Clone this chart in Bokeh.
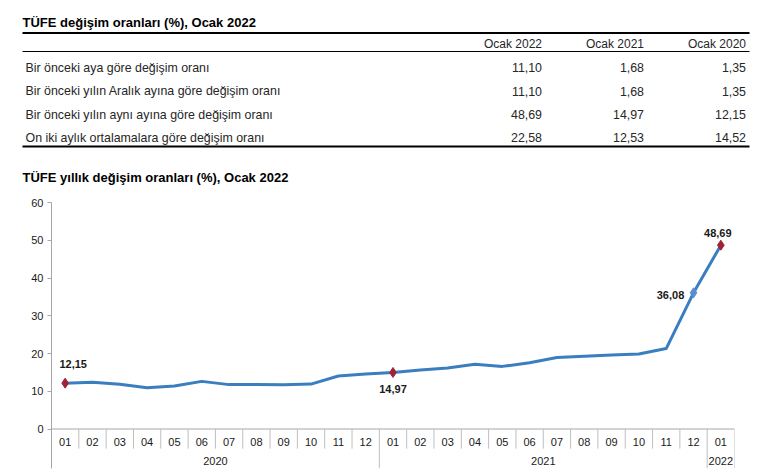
from bokeh.plotting import figure
from bokeh.models import Range1d, FixedTicker, ColumnDataSource
from bokeh.layouts import column
from bokeh.embed import file_html
from bokeh.resources import INLINE
from bokeh.core.properties import value

# ---------------- data ----------------
table_title = "TÜFE değişim oranları (%), Ocak 2022"
table_columns = ["Ocak 2022", "Ocak 2021", "Ocak 2020"]
row_labels = [
    "Bir önceki aya göre değişim oranı",
    "Bir önceki yılın Aralık ayına göre değişim oranı",
    "Bir önceki yılın aynı ayına göre değişim oranı",
    "On iki aylık ortalamalara göre değişim oranı",
]
col_ocak_2022 = [11.10, 11.10, 48.69, 22.58]
col_ocak_2021 = [1.68, 1.68, 14.97, 12.53]
col_ocak_2020 = [1.35, 1.35, 12.15, 14.52]

chart_title = "TÜFE yıllık değişim oranları (%), Ocak 2022"
months = ["01", "02", "03", "04", "05", "06", "07", "08", "09", "10", "11", "12",
          "01", "02", "03", "04", "05", "06", "07", "08", "09", "10", "11", "12",
          "01"]
years = ["2020"] * 12 + ["2021"] * 12 + ["2022"]
annual_change = [12.15, 12.37, 11.86, 10.94, 11.39, 12.62, 11.76, 11.77, 11.75, 11.89, 14.03, 14.60,
                 14.97, 15.61, 16.19, 17.14, 16.59, 17.53, 18.95, 19.25, 19.58, 19.89, 21.31, 36.08,
                 48.69]
y_ticks = [0, 10, 20, 30, 40, 50, 60]
labelled_red = [0, 12, 24]      # indices with dark red markers + labels
labelled_blue = [23]            # index with blue marker + label

# ---------------- styles ----------------
FONT = value("Liberation Sans")
LINE_COLOR = "#3A7EC0"
RED = "#9E2336"
BLUE = "#5A8ED0"
SEP_COLOR = "#BFBFBF"
AXIS_COLOR = "#A6A6A6"
TEXT_COLOR = "#1A1A1A"


def fmt(v):
    return f"{v:.2f}".replace(".", ",")


# ---------------- table figure ----------------
TW, TH = 762, 195
t = figure(width=TW, height=TH, x_range=Range1d(0, TW), y_range=Range1d(TH, 0),
           x_axis_location=None, y_axis_location=None, toolbar_location=None,
           output_backend="svg", min_border=0, frame_align=False)
t.grid.visible = False
t.outline_line_color = None

t.text(x=[22], y=[22], text=[table_title], text_font=FONT, text_font_style="bold",
       text_font_size="13px", text_baseline="middle", text_align="left", text_color="#000000")
t.text(x=[22], y=[177], text=[chart_title], text_font=FONT, text_font_style="bold",
       text_font_size="13px", text_baseline="middle", text_align="left", text_color="#000000")

left, right = 22, 749
t.segment(x0=[left], y0=[32.5], x1=[right], y1=[32.5], line_color="#000000", line_width=2)
t.segment(x0=[left], y0=[51], x1=[right], y1=[51], line_color="#000000", line_width=1)
t.segment(x0=[left], y0=[146], x1=[right], y1=[146], line_color="#000000", line_width=2)

col_right = [541.5, 643.5, 745.5]
header_y = 43
row_y = [67, 90.5, 114, 137]

t.text(x=col_right, y=[header_y] * 3, text=table_columns, text_font=FONT,
       text_font_size="12px", text_baseline="middle", text_align="right", text_color="#262626")
t.text(x=[25] * len(row_labels), y=row_y, text=row_labels, text_font=FONT,
       text_font_size="12.4px", text_baseline="middle", text_align="left", text_color="#262626")
for cx, col in zip(col_right, [col_ocak_2022, col_ocak_2021, col_ocak_2020]):
    t.text(x=[cx] * len(col), y=row_y, text=[fmt(v) for v in col], text_font=FONT,
           text_font_size="12.4px", text_baseline="middle", text_align="right",
           text_color="#262626")

# ---------------- chart figure ----------------
n = len(months)
y_bottom = -10.46
p = figure(width=762, height=278, x_range=Range1d(-0.5, n - 0.5),
           y_range=Range1d(y_bottom, 60), x_axis_location=None, y_axis_location="left",
           toolbar_location=None, output_backend="svg", frame_align=False,
           min_border_left=51, min_border_right=28, min_border_top=7, min_border_bottom=5)
p.grid.visible = False
p.outline_line_color = None

ax = p.yaxis[0]
ax.ticker = FixedTicker(ticks=y_ticks)
ax.major_tick_out = 4
ax.major_tick_in = 0
ax.minor_tick_out = 0
ax.minor_tick_in = 0
ax.axis_line_color = AXIS_COLOR
ax.major_tick_line_color = AXIS_COLOR
ax.major_label_text_font = "Liberation Sans"
ax.major_label_text_font_size = "11px"
ax.major_label_text_color = TEXT_COLOR
ax.major_label_standoff = 4

idx = list(range(n))

# category axis baseline and separators
p.segment(x0=[-0.5], y0=[0], x1=[n - 0.5], y1=[0], line_color=AXIS_COLOR, line_width=1)
sep_x, sep_bottom = [], []
for k in range(1, n + 1):
    sep_x.append(k - 0.5)
    year_break = (k == n) or (years[k] != years[k - 1])
    sep_bottom.append(y_bottom if year_break else -5.2)
p.segment(x0=sep_x, y0=[0] * len(sep_x), x1=sep_x, y1=sep_bottom,
          line_color=SEP_COLOR, line_width=1)

p.text(x=idx, y=[-3.5] * n, text=months, text_font=FONT, text_font_size="11px",
       text_align="center", text_baseline="middle", text_color=TEXT_COLOR)

year_names, year_centers = [], []
for yname in dict.fromkeys(years):
    members = [i for i in idx if years[i] == yname]
    year_names.append(yname)
    year_centers.append(sum(members) / len(members))
p.text(x=year_centers, y=[-8.6] * len(year_names), text=year_names, text_font=FONT,
       text_font_size="11px", text_align="center", text_baseline="middle", text_color=TEXT_COLOR)

# series
src = ColumnDataSource(dict(x=idx, y=annual_change))
p.line("x", "y", source=src, line_color=LINE_COLOR, line_width=3, line_join="round")

p.scatter(x=[idx[i] for i in labelled_red], y=[annual_change[i] for i in labelled_red],
          marker="diamond", size=10, fill_color=RED, line_color=RED)
p.scatter(x=[idx[i] for i in labelled_blue], y=[annual_change[i] for i in labelled_blue],
          marker="diamond", size=10, fill_color=BLUE, line_color=BLUE)

label_idx = [0, 12, 23, 24]
label_dx = [8, 0, -23, -3]
label_dy = [-19, 17, 2, -12]
p.text(x=[idx[i] for i in label_idx], y=[annual_change[i] for i in label_idx],
       text=[fmt(annual_change[i]) for i in label_idx], x_offset=label_dx, y_offset=label_dy,
       text_font=FONT, text_font_style="bold", text_font_size="11px",
       text_align="center", text_baseline="middle", text_color=TEXT_COLOR)

layout = column(t, p, spacing=0)
open("out.html", "w").write(file_html(layout, INLINE))
